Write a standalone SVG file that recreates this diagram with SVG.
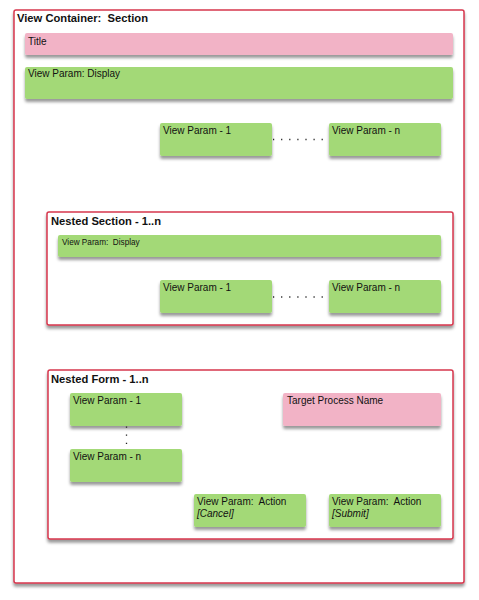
<svg xmlns="http://www.w3.org/2000/svg" width="479" height="600" viewBox="0 0 479 600">
<defs>
<filter id="sh" x="-10%" y="-20%" width="120%" height="160%">
<feDropShadow dx="0" dy="3" stdDeviation="1.8" flood-color="#000" flood-opacity="0.4"/>
</filter>
<style>
.cont{fill:#fff;stroke:#d6374d;stroke-width:1.5;filter:url(#sh)}
.g{fill:#a3d977;filter:url(#sh)}
.p{fill:#f2b3c6;filter:url(#sh)}
text{font-family:"Liberation Sans",Arial,sans-serif;fill:#111}
.lbl{font-size:10px}
.sm{font-size:8.2px}
.hd{font-size:11.2px;font-weight:bold}
.dots{stroke:#222;stroke-width:1.3;fill:none;stroke-dasharray:1.2 6.9}
</style>
</defs>
<g id="viewContainer">
<rect class="cont" x="14" y="10" width="450" height="573" rx="2"/>
<text class="hd" x="17" y="22">View Container:&#160; Section</text>
</g>
<g id="title">
<rect class="p" x="25" y="33" width="428" height="22" rx="2"/>
<text class="lbl" x="28" y="45">Title</text>
</g>
<g id="display">
<rect class="g" x="25" y="67" width="428" height="32" rx="2"/>
<text class="lbl" x="28" y="77">View Param: Display</text>
</g>
<g id="vp1">
<rect class="g" x="160" y="123" width="112" height="33" rx="2"/>
<text class="lbl" x="163" y="134">View Param - 1</text>
</g>
<g id="vpn">
<rect class="g" x="329" y="123" width="112" height="33" rx="2"/>
<text class="lbl" x="332" y="134">View Param - n</text>
</g>
<g id="nestedSection">
<rect class="cont" x="47" y="212" width="406" height="113" rx="2"/>
<text class="hd" x="51" y="225">Nested Section - 1..n</text>
</g>
<g id="nsDisplay">
<rect class="g" x="58" y="235" width="383" height="22" rx="2"/>
<text class="sm" x="62" y="245">View Param:&#160; Display</text>
</g>
<g id="nsVp1">
<rect class="g" x="160" y="280" width="112" height="33" rx="2"/>
<text class="lbl" x="163" y="291">View Param - 1</text>
</g>
<g id="nsVpn">
<rect class="g" x="329" y="280" width="112" height="33" rx="2"/>
<text class="lbl" x="332" y="291">View Param - n</text>
</g>
<g id="nestedForm">
<rect class="cont" x="48" y="370" width="405" height="169" rx="2"/>
<text class="hd" x="51" y="383">Nested Form - 1..n</text>
</g>
<g id="nfVp1">
<rect class="g" x="70" y="393" width="112" height="33" rx="2"/>
<text class="lbl" x="73" y="404">View Param - 1</text>
</g>
<g id="nfVpn">
<rect class="g" x="70" y="449" width="112" height="33" rx="2"/>
<text class="lbl" x="73" y="460">View Param - n</text>
</g>
<g id="target">
<rect class="p" x="283" y="393" width="158" height="33" rx="2"/>
<text class="lbl" x="287" y="404">Target Process Name</text>
</g>
<g id="cancel">
<rect class="g" x="194" y="494" width="112" height="33" rx="2"/>
<text class="lbl" x="197" y="505">View Param:&#160; Action</text>
<text class="lbl" x="197" y="517" font-style="italic">[Cancel]</text>
</g>
<g id="submit">
<rect class="g" x="329" y="494" width="112" height="33" rx="2"/>
<text class="lbl" x="332" y="505">View Param:&#160; Action</text>
<text class="lbl" x="332" y="517" font-style="italic">[Submit]</text>
</g>
<g id="connectors">
<line class="dots" x1="273" y1="139.5" x2="324" y2="139.5"/>
<line class="dots" x1="273" y1="297" x2="324" y2="297"/>
<line class="dots" x1="126.5" y1="426.5" x2="126.5" y2="444"/>
</g>
</svg>
